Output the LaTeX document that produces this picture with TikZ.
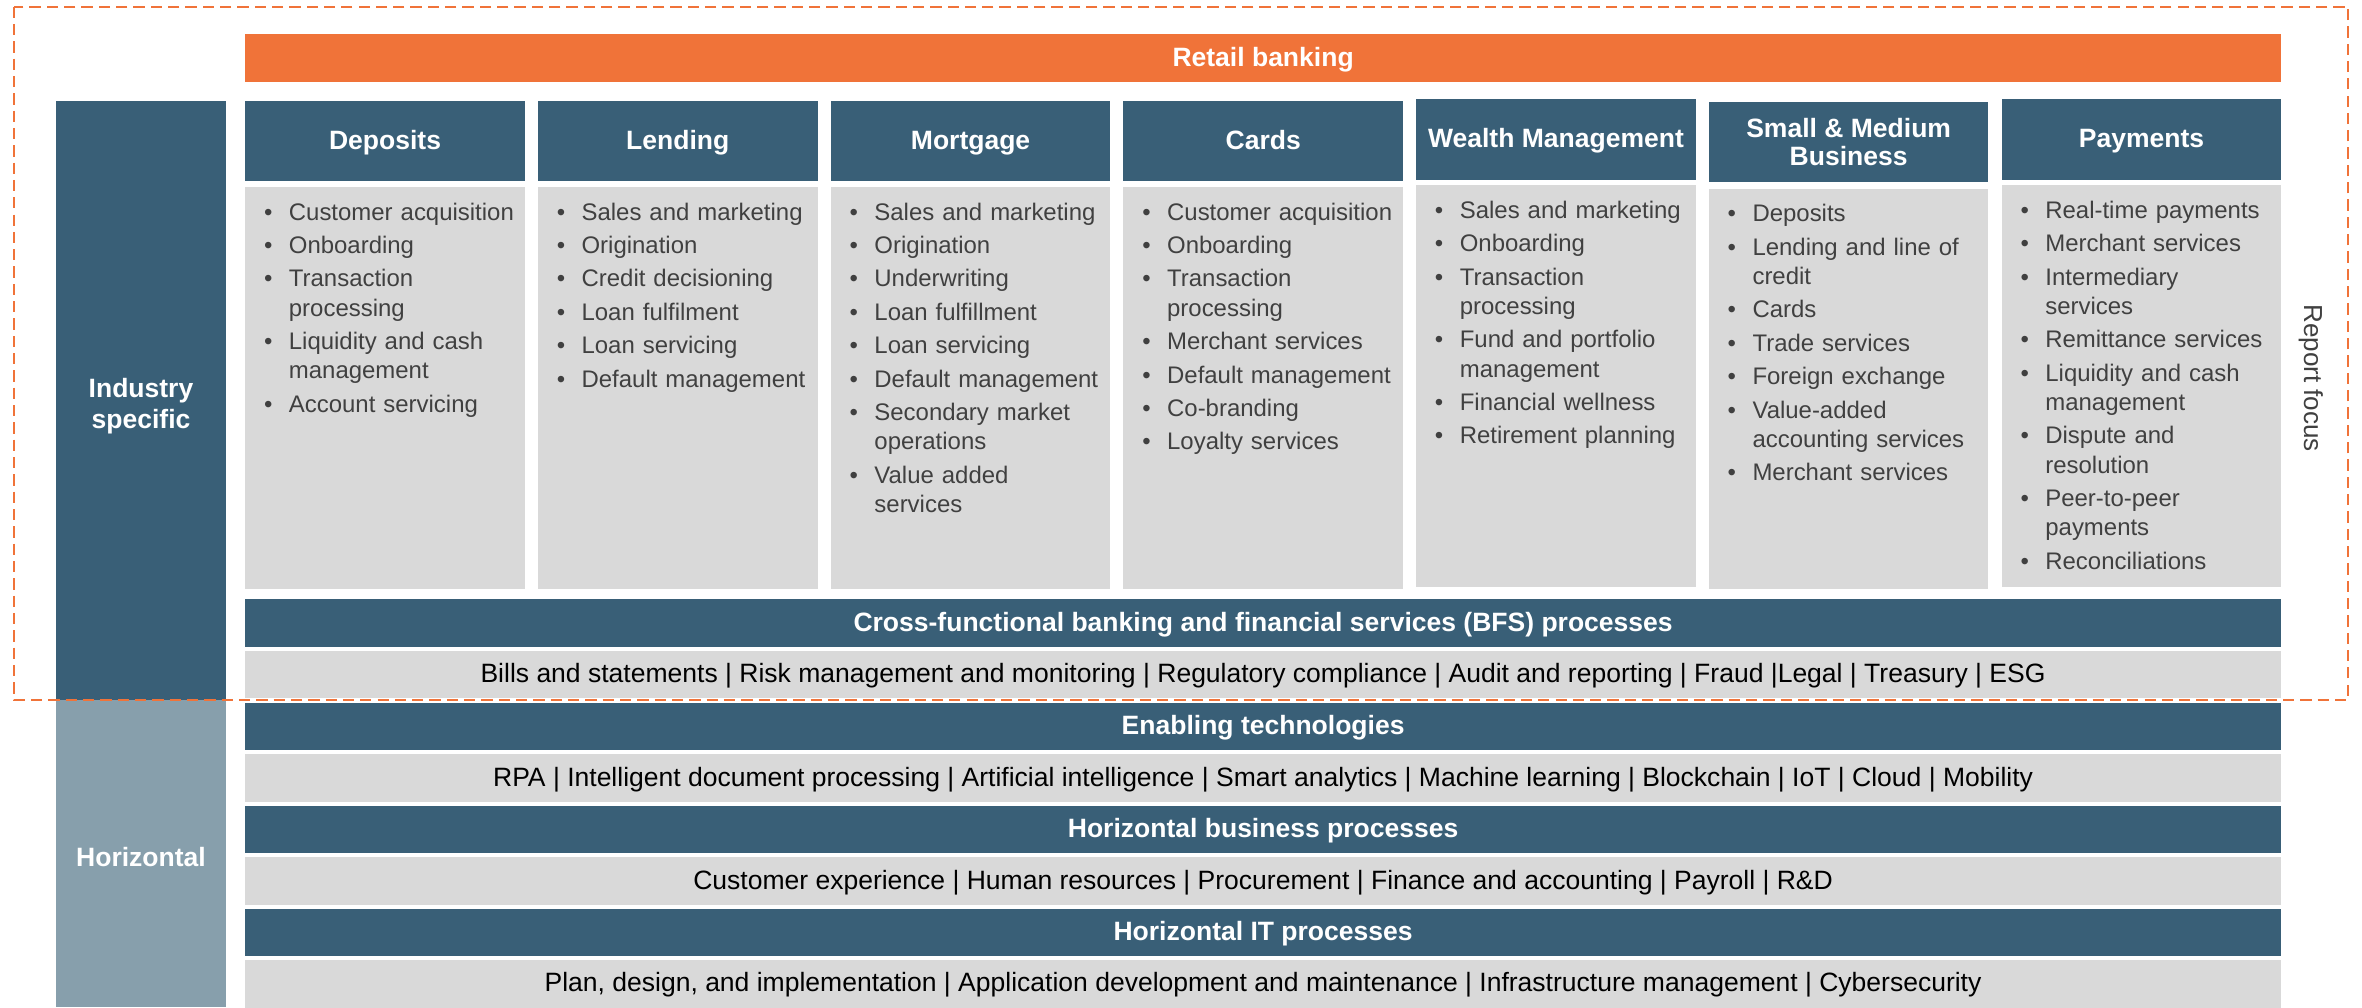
\documentclass[tikz,border=0pt]{standalone}
\usepackage{fontspec}
\setmainfont{Liberation Sans}
\definecolor{dblue}{RGB}{57,95,119}
\definecolor{lblue}{RGB}{135,159,172}
\definecolor{gbody}{RGB}{217,217,217}
\definecolor{orng}{RGB}{240,115,57}
\definecolor{ltxt}{RGB}{64,64,64}
\newcommand{\bi}[1]{\par\noindent\hangindent=16.5pt\hangafter=1\makebox[16.5pt][l]{\vrule height 14pt width 0pt\textbullet}#1\par}
\tikzset{
  onel/.style={text height=12.6pt, text depth=2pt},
  hdr/.style={fill=dblue, text=white, inner sep=0pt, anchor=north west, minimum width=185.6pt, align=center,
    font=\fontsize{17.6}{19}\selectfont\bfseries},
  colbody/.style={fill=gbody, inner sep=0pt, anchor=north west, minimum width=185.6pt},
  listbox/.style={inner sep=0pt, anchor=north west, text width=167pt, align=left, text=ltxt,
    font=\fontsize{15.9}{19.4}\selectfont,
    execute at begin node={\setlength\parskip{2.8pt}\hyphenpenalty=10000\exhyphenpenalty=10000}},
  bartitle/.style={fill=dblue, text=white, inner sep=0pt, anchor=north west, minimum width=1351.4pt,
    minimum height=31.6pt, onel, font=\fontsize{17.6}{19}\selectfont\bfseries},
  barbody/.style={fill=gbody, text=black, inner sep=0pt, anchor=north west, minimum width=1351.4pt,
    minimum height=31.6pt, onel, font=\fontsize{17.6}{19}\selectfont},
  sidebox/.style={inner sep=0pt, anchor=north west, minimum width=112.8pt},
  sidelabel/.style={inner sep=0pt, text=white, align=center, font=\fontsize{17.6}{21}\selectfont\bfseries},
  focusline/.style={draw=orng, line width=1.3pt, dash pattern=on 7.5pt off 4pt}
}
\begin{document}
\begin{tikzpicture}[x=1pt,y=-1pt]
\useasboundingbox (0,0) rectangle (1568,668.5);
% top bar
\node[fill=orng, text=white, inner sep=0pt, anchor=north west, minimum width=1351.4pt, minimum height=31.6pt, onel,
  font=\fontsize{17.6}{19}\selectfont\bfseries] (retail) at (162.6,22.6) {Retail banking};
% side columns
\node[sidebox, fill=dblue, minimum height=397.5pt] (ind) at (37.2,67) {};
\node[sidebox, fill=lblue, minimum height=204pt] (hor) at (37.2,464.5) {};
\node[sidelabel] (indl) at (93.6,269.5) {Industry\\specific};
\node[sidelabel] (horl) at (93.6,569) {Horizontal};
% column headers
\node[hdr, onel, minimum height=53pt] (hD) at (162.6,67) {Deposits};
\node[hdr, onel, minimum height=53pt] (hL) at (356.9,67) {Lending};
\node[hdr, onel, minimum height=53pt] (hM) at (551.3,67) {Mortgage};
\node[hdr, onel, minimum height=53pt] (hC) at (745.6,67) {Cards};
\node[hdr, onel, minimum height=53.3pt] (hW) at (939.9,65.7) {Wealth Management};
\node[hdr, minimum height=52.9pt] (hS) at (1134.2,67.7) {Small \& Medium\\Business};
\node[hdr, onel, minimum height=53.3pt] (hP) at (1328.6,65.7) {Payments};
% column bodies
\node[colbody, minimum height=267pt] (bD) at (162.6,124) {};
\node[colbody, minimum height=267pt] (bL) at (356.9,124) {};
\node[colbody, minimum height=267pt] (bM) at (551.3,124) {};
\node[colbody, minimum height=267pt] (bC) at (745.6,124) {};
\node[colbody, minimum height=266.8pt] (bW) at (939.9,122.8) {};
\node[colbody, minimum height=266pt] (bS) at (1134.2,125) {};
\node[colbody, minimum height=266.8pt] (bP) at (1328.6,122.8) {};
% lists
\node[listbox] (lD) at (175.1,123.7) {\bi{Customer acquisition}\bi{Onboarding}\bi{Transaction processing}\bi{Liquidity and cash management}\bi{Account servicing}};
\node[listbox] (lL) at (369.4,123.7) {\bi{Sales and marketing}\bi{Origination}\bi{Credit decisioning}\bi{Loan fulfilment}\bi{Loan servicing}\bi{Default management}};
\node[listbox] (lM) at (563.8,123.7) {\bi{Sales and marketing}\bi{Origination}\bi{Underwriting}\bi{Loan fulfillment}\bi{Loan servicing}\bi{Default management}\bi{Secondary market operations}\bi{Value added services}};
\node[listbox] (lC) at (758.1,123.7) {\bi{Customer acquisition}\bi{Onboarding}\bi{Transaction processing}\bi{Merchant services}\bi{Default management}\bi{Co-branding}\bi{Loyalty services}};
\node[listbox] (lW) at (952.4,122.5) {\bi{Sales and marketing}\bi{Onboarding}\bi{Transaction processing}\bi{Fund and portfolio management}\bi{Financial wellness}\bi{Retirement planning}};
\node[listbox] (lS) at (1146.7,124.7) {\bi{Deposits}\bi{Lending and line of credit}\bi{Cards}\bi{Trade services}\bi{Foreign exchange}\bi{Value-added accounting services}\bi{Merchant services}};
\node[listbox] (lP) at (1341.1,122.5) {\bi{Real-time payments}\bi{Merchant services}\bi{Intermediary services}\bi{Remittance services}\bi{Liquidity and cash management}\bi{Dispute and resolution}\bi{Peer-to-peer payments}\bi{Reconciliations}};
% rows
\node[bartitle] (t1) at (162.6,397.7) {Cross-functional banking and financial services (BFS) processes};
\node[barbody] (r1) at (162.6,431.8) {Bills and statements | Risk management and monitoring | Regulatory compliance | Audit and reporting | Fraud |Legal | Treasury | ESG};
\node[bartitle] (t2) at (162.6,466.2) {Enabling technologies};
\node[barbody] (r2) at (162.6,500.6) {RPA | Intelligent document processing | Artificial intelligence | Smart analytics | Machine learning | Blockchain | IoT | Cloud | Mobility};
\node[bartitle] (t3) at (162.6,534.7) {Horizontal business processes};
\node[barbody] (r3) at (162.6,569) {Customer experience | Human resources | Procurement | Finance and accounting | Payroll | R\&D};
\node[bartitle] (t4) at (162.6,603.1) {Horizontal IT processes};
\node[barbody, minimum height=31.5pt] (r4) at (162.6,637.2) {Plan, design, and implementation | Application development and maintenance | Infrastructure management | Cybersecurity};
% report focus
\node[rotate=-90, text=ltxt, inner sep=0pt, font=\fontsize{17.3}{19}\selectfont] (rf) at (1534,251) {Report focus};
\draw[focusline] (9.2,4.4) rectangle (1559,464.5);
\end{tikzpicture}
\end{document}
